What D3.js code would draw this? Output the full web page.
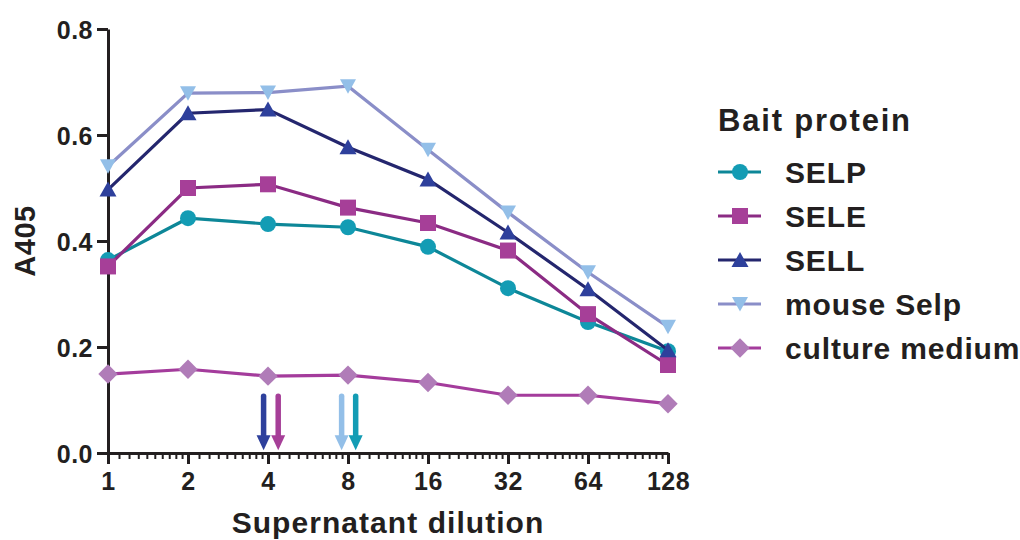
<!DOCTYPE html>
<html>
<head>
<meta charset="utf-8">
<script src="https://cdn.jsdelivr.net/npm/d3@7"></script>
<style>
  body { margin: 0; background: #fff; }
  svg { display: block; font-family: "Liberation Sans", Arial, sans-serif; font-weight: bold; }
  .axis path, .axis line { stroke: #231f20; }
  .axis text { fill: #231f20; font-size: 25px; font-family: "Liberation Sans", Arial, sans-serif; font-weight: bold; letter-spacing: 0.5px; }
</style>
</head>
<body>
<div id="container"></div>
<script>
// data
var dilutions = [1, 2, 4, 8, 16, 32, 64, 128];
var selp      = [0.364, 0.443, 0.432, 0.426, 0.389, 0.311, 0.247, 0.192];
var sele      = [0.352, 0.500, 0.507, 0.463, 0.434, 0.382, 0.262, 0.166];
var sell      = [0.497, 0.641, 0.648, 0.577, 0.516, 0.416, 0.309, 0.194];
var mouseSelp = [0.541, 0.679, 0.680, 0.692, 0.572, 0.454, 0.341, 0.238];
var medium    = [0.149, 0.158, 0.145, 0.147, 0.133, 0.109, 0.109, 0.093];
var yTicks = [0, 0.2, 0.4, 0.6, 0.8];
// arrows under the curves (dilution where each points)
var arrowAt = [3.85, 4.37, 7.57, 8.55];
var arrowColors = ["#2e409c", "#a63f98", "#93bfe8", "#139cb4"];

var series = [
	{name: "SELP", values: selp, shape: "circle", fill: "#139cb4", line: "#0d8798"},
	{name: "SELE", values: sele, shape: "square", fill: "#a63f98", line: "#8b2b84"},
	{name: "SELL", values: sell, shape: "up", fill: "#2e409c", line: "#24266e"},
	{name: "mouse Selp", values: mouseSelp, shape: "down", fill: "#93bfe8", line: "#8a8ec8"},
	{name: "culture medium", values: medium, shape: "diamond", fill: "#b07cb8", line: "#a43c9c"}
];

var width = 1020, height = 540;

var x = d3.scaleLog().base(2).domain([1, 128]).range([108, 668]);
var y = d3.scaleLinear().domain([0, 0.8]).range([453, 29]);

var svg = d3.select("#container").append("svg")
	.attr("width", width)
	.attr("height", height);

// minor log ticks 1.1..1.9 of every octave
var minor = [];
dilutions.slice(0, -1).forEach(function(d) {
	for (var k = 1; k <= 9; k++) minor.push(d * (1 + k / 10));
});

svg.append("g")
	.attr("class", "axis")
	.attr("transform", "translate(0," + y(0) + ")")
	.call(d3.axisBottom(x).tickValues(minor).tickFormat("").tickSize(6).tickSizeOuter(0))
	.call(function(g) { g.select(".domain").remove(); g.selectAll("line").attr("stroke-width", 2); });

svg.append("g")
	.attr("class", "axis")
	.attr("transform", "translate(0," + y(0) + ")")
	.call(d3.axisBottom(x).tickValues(dilutions).tickFormat(d3.format("d")).tickSize(11).tickSizeOuter(0).tickPadding(8))
	.call(function(g) { g.selectAll("path, line").attr("stroke-width", 3); });

svg.append("g")
	.attr("class", "axis")
	.attr("transform", "translate(" + x(1) + ",0)")
	.call(d3.axisLeft(y).tickValues(yTicks).tickFormat(d3.format(".1f")).tickSize(11).tickSizeOuter(0).tickPadding(4))
	.call(function(g) { g.selectAll("path, line").attr("stroke-width", 3); })
	.selectAll("text").attr("dy", "0.36em");

// axis titles
svg.append("text")
	.attr("transform", "translate(35," + y(0.4) + ") rotate(-90)")
	.attr("text-anchor", "middle")
	.style("font-size", "29px")
	.style("letter-spacing", "0.5px")
	.attr("fill", "#231f20")
	.text("A405");

svg.append("text")
	.attr("x", (x(1) + x(128)) / 2)
	.attr("y", 533)
	.attr("text-anchor", "middle")
	.style("font-size", "30px")
	.style("letter-spacing", "1.05px")
	.attr("fill", "#231f20")
	.text("Supernatant dilution");

// arrows
var arrows = svg.append("g");
arrowAt.forEach(function(a, i) {
	var ax = x(a), top = y(0.107), tip = y(0.005);
	arrows.append("line")
		.attr("x1", ax).attr("x2", ax)
		.attr("y1", top).attr("y2", tip - 12)
		.attr("stroke", arrowColors[i])
		.attr("stroke-width", 5.5)
		.attr("stroke-linecap", "round");
	arrows.append("path")
		.attr("d", "M" + (ax - 7) + "," + (tip - 15) + "L" + (ax + 7) + "," + (tip - 15) + "L" + ax + "," + tip + "Z")
		.attr("fill", arrowColors[i]);
});

function markerPath(shape) {
	if (shape === "circle") return d3.symbol(d3.symbolCircle, 201)();
	if (shape === "square") return "M-8,-8H8V8H-8Z";
	if (shape === "up") return "M0,-8L8.5,7L-8.5,7Z";
	if (shape === "down") return "M0,7.5L8,-7L-8,-7Z";
	return "M0,-9.7L9.7,0L0,9.7L-9.7,0Z";
}

var line = d3.line()
	.x(function(d, i) { return x(dilutions[i]); })
	.y(function(d) { return y(d); });

series.forEach(function(s) {
	var g = svg.append("g");
	g.append("path")
		.attr("d", line(s.values))
		.attr("fill", "none")
		.attr("stroke", s.line)
		.attr("stroke-width", 3.2);
	g.selectAll(".pt")
		.data(s.values)
		.enter()
		.append("path")
			.attr("class", "pt")
			.attr("transform", function(d, i) { return "translate(" + x(dilutions[i]) + "," + y(d) + ")"; })
			.attr("d", markerPath(s.shape))
			.attr("fill", s.fill);
});

// legend
var legend = svg.append("g").attr("transform", "translate(718,0)");
legend.append("text")
	.attr("x", 0).attr("y", 131)
	.style("font-size", "31px")
	.style("letter-spacing", "1.8px")
	.attr("fill", "#231f20")
	.text("Bait protein");

var rows = legend.selectAll(".row")
	.data(series)
	.enter()
	.append("g")
		.attr("class", "row")
		.attr("transform", function(d, i) { return "translate(0," + (172 + i * 44) + ")"; });

rows.append("line")
	.attr("x1", 0).attr("x2", 43)
	.attr("stroke", function(d) { return d.line; })
	.attr("stroke-width", 3.2);
rows.append("path")
	.attr("transform", "translate(22,0)")
	.attr("d", function(d) { return markerPath(d.shape); })
	.attr("fill", function(d) { return d.fill; });
rows.append("text")
	.attr("x", 67).attr("y", 11)
	.style("font-size", "30px")
	.style("letter-spacing", "0.85px")
	.attr("fill", "#231f20")
	.text(function(d) { return d.name; });
</script>
</body>
</html>
